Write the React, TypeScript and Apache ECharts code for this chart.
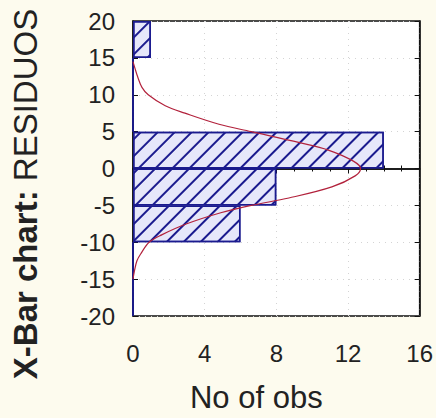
import React, { useEffect, useRef } from "react";
import * as echarts from "echarts";

const binLabels = ["-20~-15", "-15~-10", "-10~-5", "-5~0", "0~5", "5~10", "10~15", "15~20"];
const binCounts = [0, 0, 6, 8, 14, 0, 0, 1];
const yTicks = [-20, -15, -10, -5, 0, 5, 10, 15, 20];
const xTicks = [0, 4, 8, 12, 16];
const curveValues = [14.5, 13.5, 12.5, 11, 10, 8.5, 7.5, 6, 5, 3.5, 2.5, 1, 0, -1, -2.5, -4, -5, -6, -7.5, -9, -10, -11.5, -12.5, -14, -15];
const curveCounts = [0.0, 0.12, 0.25, 0.5, 0.85, 1.8, 2.9, 4.8, 6.6, 9.3, 10.9, 12.3, 12.7, 12.4, 11.1, 8.7, 6.6, 4.9, 3.0, 1.6, 0.9, 0.45, 0.22, 0.07, 0.0];

const FONT = "'Liberation Sans', Arial, sans-serif";
const TXT = "#222";
const NAVY = "#1b1b8f";

export default function App() {
  const ref = useRef<HTMLDivElement>(null);
  useEffect(() => {
    if (!ref.current) return;
    const chart = echarts.init(ref.current, null, { renderer: "svg" });
    const yMin = yTicks[0];
    const yMax = yTicks[yTicks.length - 1];
    const xMin = xTicks[0];
    const xMax = xTicks[xTicks.length - 1];
    const valueAxisCommon = {
      type: "value" as const,
      axisLine: { show: true, lineStyle: { color: "#111", width: 1.5 } },
      axisTick: { show: true, inside: true, length: 5, lineStyle: { color: "#111", width: 1 } },
    };
    chart.setOption({
      animation: false,
      backgroundColor: "#fdfbee",
      grid: {
        left: 133,
        right: 14,
        top: 21,
        bottom: 100,
        show: true,
        backgroundColor: "#ffffff",
        borderColor: "#111",
        borderWidth: 1.5,
      },
      xAxis: [
        {
          ...valueAxisCommon,
          position: "bottom",
          min: xMin,
          max: xMax,
          interval: 4,
          minorTick: { show: true, splitNumber: 4, length: 3, lineStyle: { color: "#111" } },
          splitLine: { show: true, lineStyle: { color: "#d4d4d4", type: [1, 5], width: 1 } },
          axisLabel: { fontFamily: FONT, fontSize: 24, color: TXT, margin: 25 },
          name: "No of obs",
          nameLocation: "middle",
          nameGap: 66,
          nameTextStyle: { fontFamily: FONT, fontSize: 31, color: TXT, padding: [0, 40, 0, 0] },
        },
        {
          ...valueAxisCommon,
          position: "top",
          min: xMin,
          max: xMax,
          interval: 4,
          minorTick: { show: true, splitNumber: 4, length: 3, lineStyle: { color: "#111" } },
          splitLine: { show: false },
          axisLabel: { show: false },
        },
      ],
      yAxis: [
        {
          ...valueAxisCommon,
          position: "left",
          min: yMin,
          max: yMax,
          interval: 5,
          splitLine: { show: true, lineStyle: { color: "#d4d4d4", type: [1, 5], width: 1 } },
          axisLabel: { fontFamily: FONT, fontSize: 24, color: TXT, margin: 18 },
        },
        {
          type: "category",
          position: "left",
          data: binLabels,
          boundaryGap: true,
          show: false,
        },
        {
          ...valueAxisCommon,
          position: "right",
          min: yMin,
          max: yMax,
          interval: 5,
          splitLine: { show: false },
          axisLabel: { show: false },
        },
      ],
      series: [
        {
          type: "bar",
          xAxisIndex: 0,
          yAxisIndex: 1,
          data: binCounts,
          barCategoryGap: 0,
          itemStyle: {
            color: "#e6e7fa",
            borderColor: NAVY,
            borderWidth: 1.5,
            decal: {
              symbol: "rect",
              symbolSize: 1,
              rotation: -Math.PI / 4,
              dashArrayX: [[1, 0]],
              dashArrayY: [2, 10],
              color: NAVY,
            },
          },
          z: 2,
        },
        {
          type: "line",
          xAxisIndex: 0,
          yAxisIndex: 0,
          data: curveValues.map((v, i) => [curveCounts[i], v]),
          smooth: 0.35,
          showSymbol: false,
          lineStyle: { color: "#b2223c", width: 1.2 },
          z: 3,
        },
      ],
      graphic: [
        {
          type: "text",
          x: 25,
          y: 194,
          rotation: Math.PI / 2,
          style: {
            text: "{b|X-Bar chart:} RESIDUOS",
            fontFamily: FONT,
            fontSize: 33,
            fill: TXT,
            align: "center",
            verticalAlign: "middle",
            rich: {
              b: { fontFamily: FONT, fontSize: 33, fontWeight: "bold", fill: TXT },
            },
          },
        },
      ],
    });
    return () => chart.dispose();
  }, []);
  return <div ref={ref} style={{ position: "fixed", left: 0, top: 0, width: 436, height: 418 }} />;
}
